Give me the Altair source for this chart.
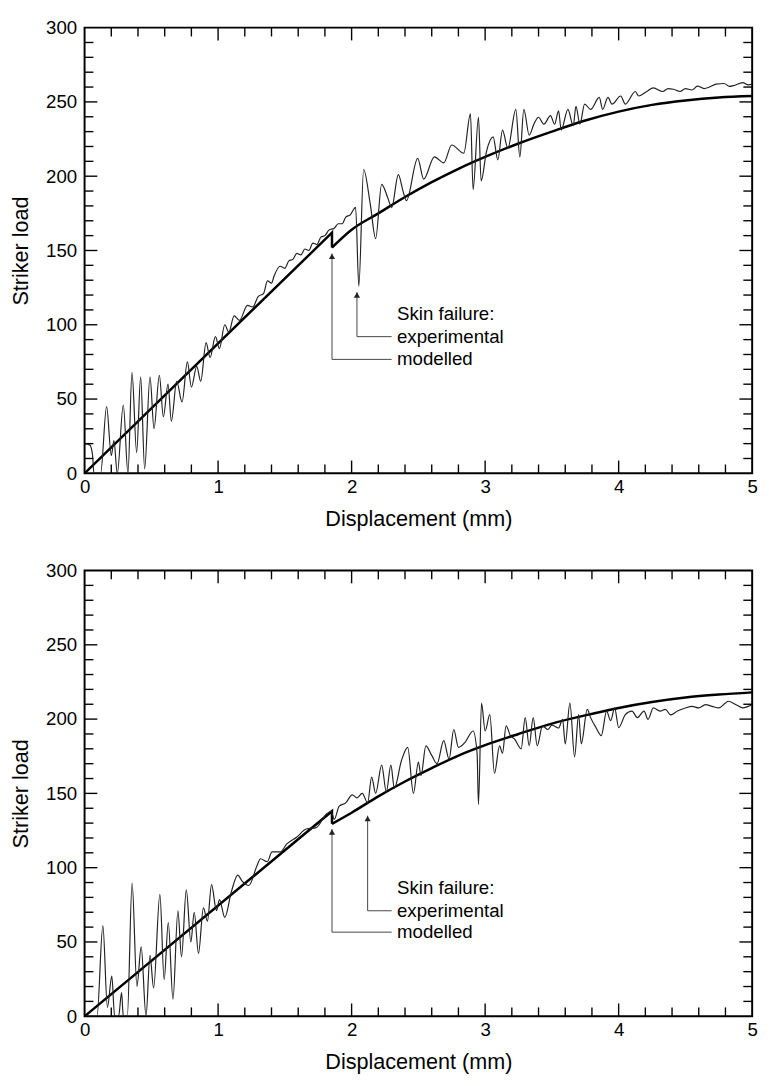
import altair as alt
import pandas as pd

FONT = "Liberation Sans"

# ---------------- data: top panel ----------------
top_model_lin_x = [0.0, 1.853, 1.853]
top_model_lin_y = [0.0, 162.0, 152.0]
top_model_x = [1.853, 2.0, 2.2, 2.4, 2.6, 2.8, 3.0, 3.25, 3.5, 3.75, 4.0, 4.25, 4.5, 4.75, 5.0]
top_model_y = [152.0, 164.0, 175.0, 186.0, 196.0, 205.0, 213.0, 222.0, 230.0, 237.5, 243.5, 248.0, 251.0, 253.0, 254.0]

top_exp_x = [0.0, 0.04, 0.06, 0.07, 0.12, 0.165, 0.20, 0.22, 0.245, 0.29, 0.325, 0.355, 0.39, 0.42,
             0.45, 0.49, 0.52, 0.56, 0.59, 0.625, 0.65, 0.69, 0.73, 0.77, 0.80, 0.84, 0.87, 0.91,
             0.94, 0.98, 1.01, 1.05, 1.08, 1.12, 1.16, 1.22, 1.26, 1.30, 1.34, 1.37, 1.40, 1.42,
             1.465, 1.50, 1.53, 1.56, 1.59, 1.62, 1.65, 1.68, 1.71, 1.74, 1.77, 1.80, 1.83, 1.87,
             1.90, 1.93, 1.956, 1.99, 2.03, 2.054, 2.09, 2.14, 2.18, 2.225, 2.27, 2.30,
             2.35, 2.385, 2.41, 2.495, 2.54, 2.62, 2.69, 2.75, 2.84, 2.89, 2.91, 2.95, 2.97, 3.01,
             3.06, 3.095, 3.13, 3.17, 3.23, 3.26, 3.29, 3.33, 3.365, 3.40, 3.44, 3.49, 3.52, 3.55,
             3.57, 3.62, 3.66, 3.68, 3.71, 3.745, 3.79, 3.855, 3.88, 3.92, 3.95, 4.015, 4.05, 4.125,
             4.15, 4.21, 4.26, 4.33, 4.37, 4.41, 4.46, 4.5, 4.55, 4.59, 4.64, 4.68, 4.73, 4.79,
             4.83, 4.86, 4.93, 4.97, 5.0]
top_exp_y = [20, 19, 12, 0, 0, 45, 12, 22, 0, 46, 0, 68, 14, 65,
             3, 65, 30, 66, 38, 60, 35, 62, 48, 75, 58, 72, 62, 88,
             78, 92, 84, 100, 95, 106, 103, 113, 112, 119, 121, 129.5, 128, 133,
             139.4, 138, 143, 144, 148, 147, 151, 150, 155, 154, 159, 160, 163.7, 165,
             168, 168, 172.5, 174, 179, 126, 204.5, 181, 158, 194.5, 185.7, 179,
             201, 190, 183.5, 212, 198, 213, 209, 221, 215.5, 242, 191, 239.7, 196.8, 216.6,
             226.5, 211, 231, 218.8, 245, 213, 245, 227.6, 235, 239.7, 235, 240.8, 235, 244,
             231, 245, 234, 247, 235, 248.5, 245, 253, 245, 253, 248.5, 254, 248.5, 257,
             254, 257, 259.5, 257, 259, 258.5, 257, 259, 258, 260.6, 259, 260, 262, 262.4,
             260.5, 261, 263, 261.5, 262]

top_arrow_model = {"x": [1.853, 1.853, 2.30], "y": [148.0, 76.7, 76.7]}
top_arrow_exp = {"x": [2.04, 2.04, 2.30], "y": [122.0, 92.0, 92.0]}
top_text_y = [107.5, 92.0, 76.7]

# ---------------- data: bottom panel ----------------
bot_model_lin_x = [0.0, 1.853, 1.853]
bot_model_lin_y = [0.0, 138.0, 129.5]
bot_model_x = [1.853, 2.0, 2.2, 2.4, 2.6, 2.8, 3.0, 3.25, 3.5, 3.75, 4.0, 4.25, 4.5, 4.75, 5.0]
bot_model_y = [129.5, 137.0, 148.0, 158.0, 167.0, 175.5, 182.5, 190.0, 197.0, 202.5, 207.5, 211.5, 214.5, 216.5, 218.0]

bot_exp_x = [0.0, 0.093, 0.137, 0.171, 0.204, 0.225, 0.255, 0.277, 0.29, 0.32, 0.356, 0.392, 0.424,
             0.46, 0.49, 0.517, 0.564, 0.596, 0.627, 0.662, 0.699, 0.726, 0.762, 0.796, 0.821, 0.853,
             0.89, 0.92, 0.951, 0.988, 1.01, 1.05, 1.10, 1.147, 1.18, 1.23, 1.29, 1.318, 1.368, 1.404,
             1.466, 1.515, 1.588, 1.66, 1.735, 1.81, 1.846, 1.87, 1.907, 1.956, 2.005, 2.04, 2.08,
             2.12, 2.15, 2.18, 2.225, 2.26, 2.294, 2.32, 2.373, 2.42, 2.463, 2.5, 2.52, 2.556, 2.6,
             2.64, 2.69, 2.73, 2.765, 2.8, 2.85, 2.91, 2.94, 2.95, 2.973, 3.0, 3.035, 3.07, 3.108,
             3.13, 3.157, 3.19, 3.22, 3.27, 3.30, 3.33, 3.36, 3.39, 3.43, 3.47, 3.50, 3.55, 3.58,
             3.60, 3.635, 3.67, 3.70, 3.72, 3.765, 3.79, 3.83, 3.87, 3.91, 3.94, 3.97, 4.0, 4.05,
             4.1, 4.14, 4.19, 4.22, 4.26, 4.31, 4.35, 4.39, 4.44, 4.5, 4.55, 4.6, 4.65, 4.7, 4.75,
             4.8, 4.82, 4.88, 4.93, 4.97, 5.0]
bot_exp_y = [0, 0, 61, 6, 27, 0, 0, 16, 0, 0, 89.7, 20, 46.7,
             0, 41, 19, 82, 24.7, 63, 11.5, 71, 40, 85, 50, 70, 42.3,
             73, 64, 88.6, 71, 78.6, 66.5, 84, 95, 91, 88, 101, 106, 104, 110.6,
             110.6, 116, 120.5, 126, 127, 136, 138, 132.6, 141.4, 143.6, 149, 147, 150,
             143.6, 161, 150, 169, 151, 169, 153.5, 172, 181, 150, 171, 162, 182, 175.6,
             170, 185.5, 173, 193, 181, 184.4, 192, 176.7, 142.6, 210.8, 192, 203, 163.4, 182,
             177, 195.4, 188.8, 186.6, 180, 201, 182, 201, 182, 195.4, 193, 196, 194, 199.8,
             183.3, 210.8, 174.5, 203, 183.3, 206.5, 201, 194.3, 188.8, 205.4, 199, 207.5, 194.3, 203,
             205.4, 201, 205.4, 199.8, 207.5, 205.4, 206.5, 202.8, 205.4, 207.5, 208.6, 207.5, 209.7, 208.6, 207.5,
             210.8, 212, 209.7, 207.5, 208.6, 209.7]

bot_arrow_model = {"x": [1.853, 1.853, 2.30], "y": [126.0, 56.6, 56.6]}
bot_arrow_exp = {"x": [2.12, 2.12, 2.30], "y": [135.0, 71.0, 71.0]}
bot_text_y = [86.4, 71.0, 56.6]

annot_texts = ["Skin failure:", "experimental", "modelled"]
annot_text_x = 2.34

# ---------------- axis ticks ----------------
x_major = [1, 2, 3, 4]
x_minor = [0.2, 0.4, 0.6, 0.8, 1.2, 1.4, 1.6, 1.8, 2.2, 2.4, 2.6, 2.8,
           3.2, 3.4, 3.6, 3.8, 4.2, 4.4, 4.6, 4.8]
y_major = [50, 100, 150, 200, 250]
y_minor = [10, 20, 30, 40, 60, 70, 80, 90, 110, 120, 130, 140, 160, 170, 180, 190,
           210, 220, 230, 240, 260, 270, 280, 290]
x_labels = [0, 1, 2, 3, 4, 5]
y_labels = [0, 50, 100, 150, 200, 250, 300]

W, H = 680, 454
MAJ, MIN = 13, 9

xs = alt.Scale(domain=[0, 5], nice=False, zero=False)
ys = alt.Scale(domain=[0, 300], nice=False, zero=False)

X_AXIS = alt.Axis(title="Displacement (mm)", values=x_labels, format="d", ticks=False, domain=False,
                  grid=False, labelFlush=False, labelOverlap=False, labelPadding=5, titlePadding=12)
Y_AXIS = alt.Axis(title="Striker load", values=y_labels, format="d", ticks=False, domain=False,
                  grid=False, labelFlush=False, labelOverlap=False, labelPadding=8, titlePadding=13)


def X():
    return alt.X("x:Q", scale=xs, axis=X_AXIS)


def Y():
    return alt.Y("y:Q", scale=ys, axis=Y_AXIS)


def panel(mlin_x, mlin_y, m_x, m_y, e_x, e_y, arr_m, arr_e, text_y):
    lin_df = pd.DataFrame({"x": mlin_x, "y": mlin_y, "i": list(range(len(mlin_x)))})
    mod_df = pd.DataFrame({"x": m_x, "y": m_y})
    exp_df = pd.DataFrame({"x": e_x, "y": e_y})

    model_lin = alt.Chart(lin_df).mark_line(color="black", strokeWidth=2.5, clip=True).encode(
        x=X(), y=Y(), order="i:Q")
    model = alt.Chart(mod_df).mark_line(color="black", strokeWidth=2.5, interpolate="monotone",
                                        clip=True).encode(x=X(), y=Y())
    exp = alt.Chart(exp_df).mark_line(color="#222222", strokeWidth=1.2, interpolate="monotone",
                                      clip=True).encode(x=X(), y=Y())

    arr_rows = []
    for k, a in enumerate([arr_m, arr_e]):
        for j, (xx, yy) in enumerate(zip(a["x"], a["y"])):
            arr_rows.append({"x": xx, "y": yy, "a": k, "i": j})
    arr_df = pd.DataFrame(arr_rows)
    arrows = alt.Chart(arr_df).mark_line(color="#444", strokeWidth=1).encode(
        x=X(), y=Y(), detail="a:N", order="i:Q")
    heads_df = pd.DataFrame({"x": [arr_m["x"][0], arr_e["x"][0]],
                             "y": [arr_m["y"][0] - 2, arr_e["y"][0] - 2]})
    heads = alt.Chart(heads_df).mark_point(shape="triangle-up", filled=True, size=40,
                                           color="#222", opacity=1).encode(x=X(), y=Y())
    txt_df = pd.DataFrame({"x": [annot_text_x] * 3, "y": text_y, "t": annot_texts})
    texts = alt.Chart(txt_df).mark_text(align="left", baseline="middle", fontSize=19,
                                        font=FONT, color="black").encode(x=X(), y=Y(), text="t:N")

    def xt(vals, y0, y1):
        return alt.Chart(pd.DataFrame({"x": vals})).mark_rule(color="black", strokeWidth=1.4).encode(
            x=X(), y=alt.value(y0), y2=alt.value(y1))

    def yt(vals, x0, x1):
        return alt.Chart(pd.DataFrame({"y": vals})).mark_rule(color="black", strokeWidth=1.4).encode(
            y=Y(), x=alt.value(x0), x2=alt.value(x1))

    ticks = [
        xt(x_major, H, H - MAJ), xt(x_minor, H, H - MIN),
        xt(x_major, 0, MAJ), xt(x_minor, 0, MIN),
        yt(y_major, 0, MAJ), yt(y_minor, 0, MIN),
        yt(y_major, W, W - MAJ), yt(y_minor, W, W - MIN),
    ]
    return alt.layer(model_lin, model, exp, arrows, heads, texts, *ticks).properties(
        width=W, height=H, view=alt.ViewBackground(stroke="black", strokeWidth=2))


top = panel(top_model_lin_x, top_model_lin_y, top_model_x, top_model_y, top_exp_x, top_exp_y,
            top_arrow_model, top_arrow_exp, top_text_y)
bot = panel(bot_model_lin_x, bot_model_lin_y, bot_model_x, bot_model_y, bot_exp_x, bot_exp_y,
            bot_arrow_model, bot_arrow_exp, bot_text_y)

chart = alt.vconcat(top, bot, spacing=31).properties(
    padding={"left": 1, "top": 0, "right": 2, "bottom": 0}, background="white"
).configure_view(stroke="black", strokeWidth=2).configure_axis(
    labelFont=FONT, titleFont=FONT, labelFontSize=19, titleFontSize=22,
    titleFontWeight="normal", labelColor="black", titleColor="black"
)

chart.save("out.html", embed_options={"renderer": "svg", "actions": False})
